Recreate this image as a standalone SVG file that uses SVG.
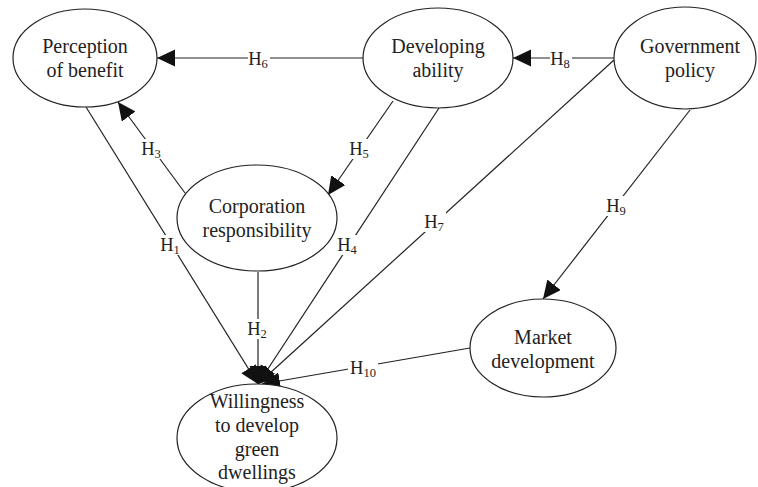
<svg xmlns="http://www.w3.org/2000/svg" width="758" height="487" viewBox="0 0 758 487">
<style>
.n{fill:#fff;stroke:#222;stroke-width:1.2}
.t{font-family:"Liberation Serif","Times New Roman",serif;font-size:20px;fill:#222;text-anchor:middle}
.c{stroke:#222;stroke-width:1.2;fill:none}
.a{marker-end:url(#ah)}
.h{font-family:"Liberation Serif","Times New Roman",serif;font-size:18.5px;fill:#222;text-anchor:middle}
.s{font-size:12.5px}
.b{fill:#fff}
</style>
<defs>
<marker id="ah" markerUnits="userSpaceOnUse" markerWidth="20" markerHeight="18" refX="18" refY="8.5" orient="auto" viewBox="0 0 20 18">
<path d="M0,0 L18,8.5 L0,17 z" fill="#111"/>
</marker>
</defs>
<rect width="758" height="487" fill="#fff"/>
<g id="connectors">
<line class="c a" x1="364" y1="58" x2="157" y2="58"/>
<line class="c a" x1="614" y1="58" x2="513" y2="58"/>
<line class="c a" x1="185" y1="193" x2="118" y2="102"/>
<line class="c a" x1="393" y1="101" x2="328" y2="195"/>
<line class="c a" x1="86" y1="107" x2="258" y2="384"/>
<line class="c a" x1="439" y1="108" x2="258" y2="384"/>
<line class="c a" x1="614" y1="60" x2="258" y2="384"/>
<line class="c a" x1="258" y1="272" x2="258" y2="384"/>
<line class="c a" x1="690" y1="110" x2="543" y2="299"/>
<line class="c a" x1="470" y1="348" x2="262" y2="384"/>
<rect class="b" x="248" y="49" width="22" height="20"/>
<rect class="b" x="550" y="49" width="22" height="20"/>
<rect class="b" x="141" y="139" width="22" height="20"/>
<rect class="b" x="349" y="139" width="22" height="20"/>
<rect class="b" x="160" y="235" width="22" height="20"/>
<rect class="b" x="337" y="235" width="22" height="20"/>
<rect class="b" x="424" y="212" width="22" height="20"/>
<rect class="b" x="247" y="319" width="22" height="20"/>
<rect class="b" x="606" y="196" width="22" height="20"/>
<rect class="b" x="348" y="358" width="30" height="20"/>
<text class="h" x="258" y="65">H<tspan class="s" dy="3">6</tspan></text>
<text class="h" x="560" y="65">H<tspan class="s" dy="3">8</tspan></text>
<text class="h" x="151" y="155">H<tspan class="s" dy="3">3</tspan></text>
<text class="h" x="359" y="155">H<tspan class="s" dy="3">5</tspan></text>
<text class="h" x="170" y="251">H<tspan class="s" dy="3">1</tspan></text>
<text class="h" x="347" y="251">H<tspan class="s" dy="3">4</tspan></text>
<text class="h" x="434" y="228">H<tspan class="s" dy="3">7</tspan></text>
<text class="h" x="257" y="335">H<tspan class="s" dy="3">2</tspan></text>
<text class="h" x="616" y="212">H<tspan class="s" dy="3">9</tspan></text>
<text class="h" x="363" y="374">H<tspan class="s" dy="3">10</tspan></text>
</g>
<g id="perception">
<ellipse class="n" cx="85" cy="58" rx="72" ry="49"/>
<text class="t" x="85" y="53">Perception</text>
<text class="t" x="85" y="77">of benefit</text>
</g>
<g id="developing">
<ellipse class="n" cx="438" cy="58" rx="75" ry="50"/>
<text class="t" x="438" y="53">Developing</text>
<text class="t" x="438" y="77">ability</text>
</g>
<g id="government">
<ellipse class="n" cx="685" cy="58" rx="71" ry="51"/>
<text class="t" x="690" y="53">Government</text>
<text class="t" x="690" y="77">policy</text>
</g>
<g id="corporation">
<ellipse class="n" cx="257" cy="218" rx="80" ry="53"/>
<text class="t" x="257" y="213">Corporation</text>
<text class="t" x="257" y="237">responsibility</text>
</g>
<g id="market">
<ellipse class="n" cx="543" cy="348" rx="73" ry="49"/>
<text class="t" x="543" y="344">Market</text>
<text class="t" x="543" y="368">development</text>
</g>
<g id="willingness">
<ellipse class="n" cx="257" cy="438" rx="80" ry="54"/>
<text class="t" x="257" y="408">Willingness</text>
<text class="t" x="257" y="432">to develop</text>
<text class="t" x="257" y="456">green</text>
<text class="t" x="257" y="479">dwellings</text>
</g>
</svg>
